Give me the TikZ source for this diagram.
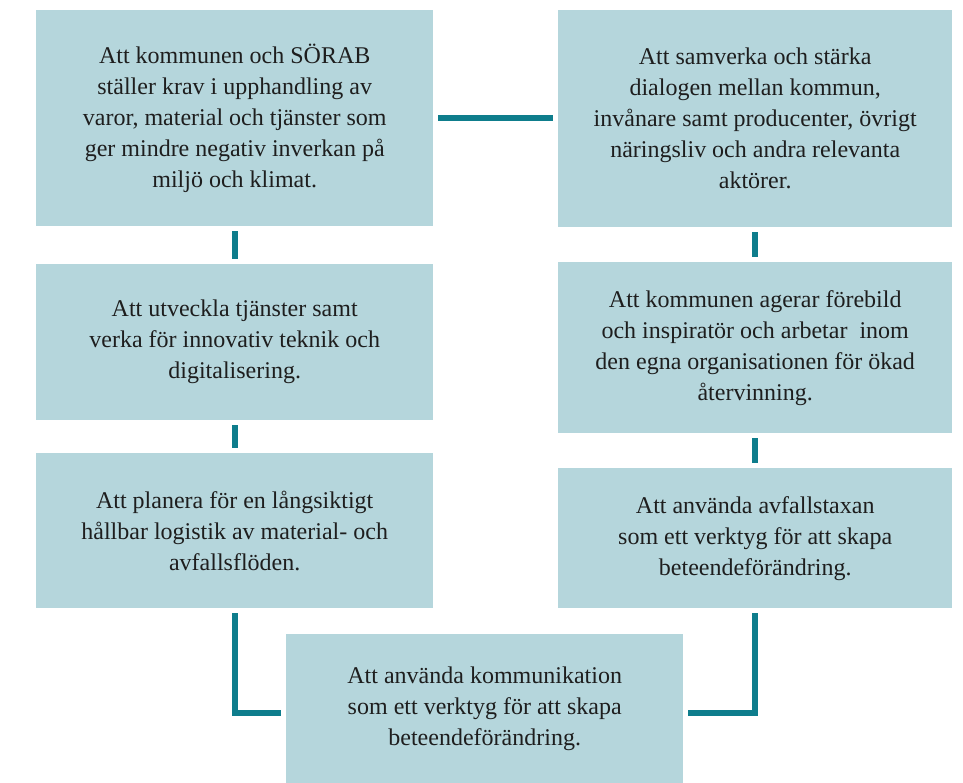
\documentclass[tikz,border=0pt]{standalone}
\usepackage{fontspec}
\setmainfont{Liberation Serif}
\definecolor{boxfill}{HTML}{B5D6DC}
\definecolor{linkteal}{HTML}{0E7D8C}
\definecolor{goaltext}{HTML}{1E1E1E}
\tikzset{
  goal/.style={fill=boxfill, text=goaltext, anchor=north west, align=center, inner sep=0pt,
    font=\fontsize{24}{31}\selectfont},
  link/.style={draw=linkteal, line width=6pt, shorten >=5pt, shorten <=5pt}
}
\begin{document}
\begin{tikzpicture}[x=1pt,y=1pt]
  \useasboundingbox (0,0) rectangle (963,-783);
  % left column
  \node[goal, minimum width=397pt, minimum height=216pt] (kravL) at (36,-10)
    {Att kommunen och SÖRAB\\ställer krav i upphandling av\\varor, material och tjänster som\\ger mindre negativ inverkan på\\miljö och klimat.};
  \node[goal, minimum width=397pt, minimum height=156pt] (teknikL) at (36,-264)
    {Att utveckla tjänster samt\\verka för innovativ teknik och\\digitalisering.};
  \node[goal, minimum width=397pt, minimum height=155pt] (logistikL) at (36,-453)
    {Att planera för en långsiktigt\\hållbar logistik av material- och\\avfallsflöden.};
  % right column
  \node[goal, minimum width=394pt, minimum height=217pt] (dialogR) at (558,-10)
    {Att samverka och stärka\\dialogen mellan kommun,\\invånare samt producenter, övrigt\\näringsliv och andra relevanta\\aktörer.};
  \node[goal, minimum width=394pt, minimum height=171pt] (forebildR) at (558,-262)
    {Att kommunen agerar förebild\\och inspiratör och arbetar\ \ inom\\den egna organisationen för ökad\\återvinning.};
  \node[goal, minimum width=394pt, minimum height=140pt] (taxaR) at (558,-468)
    {Att använda avfallstaxan\\som ett verktyg för att skapa\\beteendeförändring.};
  % bottom
  \node[goal, minimum width=397pt, minimum height=149pt] (kommB) at (286,-634)
    {Att använda kommunikation\\som ett verktyg för att skapa\\beteendeförändring.};

  \draw[link] (kravL.east) -- (kravL.east -| dialogR.west);
  \draw[link] (kravL.south) -- (teknikL.north);
  \draw[link] (teknikL.south) -- (logistikL.north);
  \draw[link] (dialogR.south) -- (forebildR.north);
  \draw[link] (forebildR.south) -- (taxaR.north);
  \draw[link] (logistikL.south) |- ([yshift=-4.5pt]kommB.west);
  \draw[link] (taxaR.south) |- ([yshift=-4.5pt]kommB.east);
\end{tikzpicture}
\end{document}
